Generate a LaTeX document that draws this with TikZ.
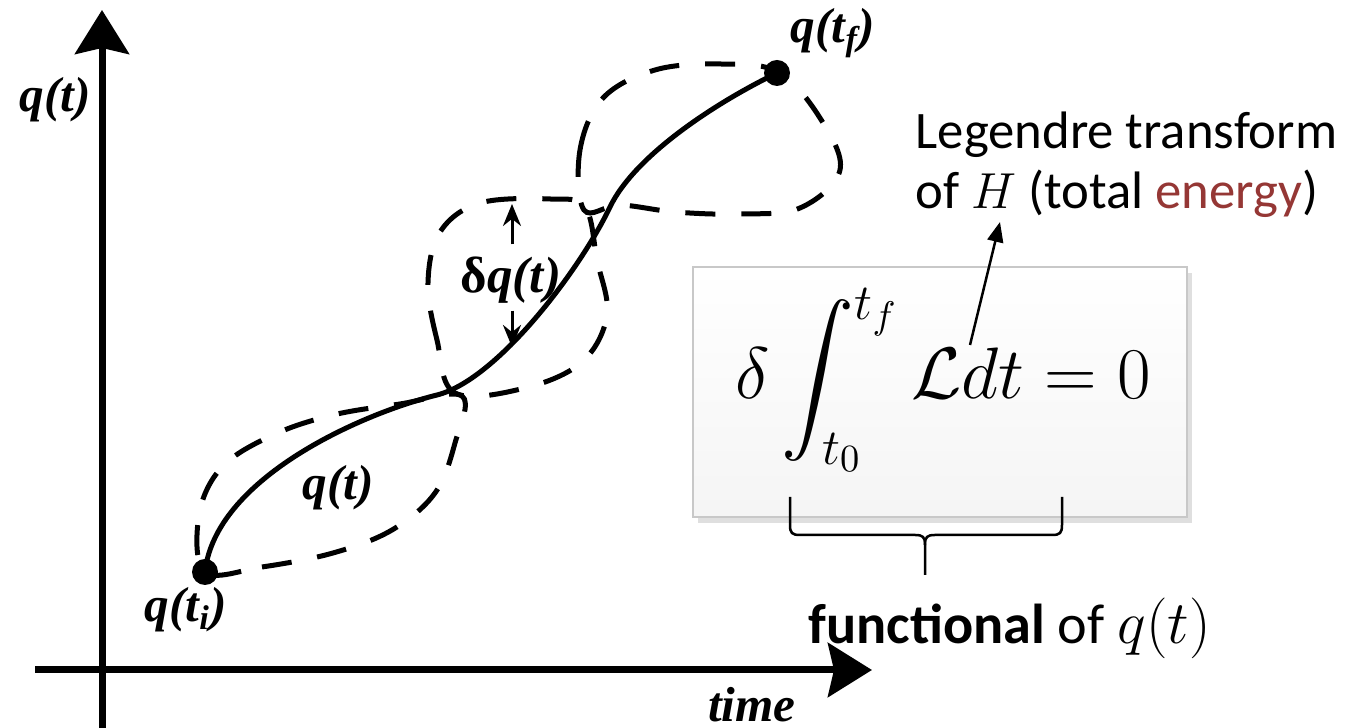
\documentclass[tikz,border=0pt]{standalone}
\usepackage{exscale}
\usepackage{fontspec}
\usetikzlibrary{arrows.meta,positioning,shadows}
\newfontfamily\notefont{Carlito}
\newfontfamily\plotfont{Liberation Serif}
\definecolor{energyred}{RGB}{149,55,53}
\definecolor{boxline}{RGB}{200,200,200}

\tikzset{
  axis/.style={line width=0.7mm, -{Stealth[length=4.4mm,width=5.4mm,inset=0.6mm]}},
  trajectory/.style={line width=0.5mm},
  varied/.style={line width=0.5mm, dash pattern=on 3mm off 2.6mm},
  dot/.style={circle, fill, inner sep=0pt, minimum size=2.6mm},
  plotlabel/.style={font=\plotfont\bfseries\itshape\fontsize{14}{16}\selectfont, inner sep=0.5pt},
  note/.style={font=\notefont\fontsize{15}{17}\selectfont, align=left, inner sep=0pt},
  pointer/.style={line width=0.25mm, -{Triangle[length=2mm,width=1.6mm]}},
  eqbox/.style={draw=boxline, line width=0.6pt, top color=white, bottom color=gray!8,
    drop shadow={shadow xshift=0.5mm, shadow yshift=-0.6mm, opacity=0.25},
    minimum width=49.4mm, minimum height=25mm},
  bracket/.style={line width=0.25mm},
}

\begin{document}
\begin{tikzpicture}[x=0.1mm, y=-0.1mm]
  \useasboundingbox (0,0) rectangle (1357,728);

  % axes
  \coordinate (ybot) at (102,728);
  \coordinate (ytop) at (102,10);
  \coordinate (xleft) at (35,670);
  \coordinate (xright) at (872,670);
  \draw[axis] (ybot) -- (ytop);
  \draw[axis] (xleft) -- (xright);
  \node[plotlabel] (qaxis) at (55,100) {q(t)};
  \node[plotlabel] (time) at (752,705) {time};

  % end points
  \node[dot] (ti) at (205,572) {};
  \node[dot] (tf) at (777,73) {};
  \node[plotlabel] (tilabel) at (186,610) {q(t\textsubscript{i})};
  \node[plotlabel] (tflabel) at (833,33) {q(t\textsubscript{f})};

  % varied paths
  \draw[varied] plot[smooth cycle, tension=0.6] coordinates {(205,572) (262,567) (333,553) (392,530)
    (435,493) (455,443) (462,396) (400,404) (333,415) (273,435) (222,467) (199,515)};
  \draw[varied] plot[smooth cycle, tension=0.6] coordinates {(455,393) (437,340) (428,283) (440,232)
    (480,203) (550,199) (585,207) (597,260) (607,315) (582,362) (525,388)};
  \draw[varied] plot[smooth cycle, tension=0.6] coordinates {(584,210) (580,150) (603,98) (655,70)
    (720,64) (778,72) (820,118) (840,170) (800,208) (738,214) (675,212) (620,205)};

  % actual path
  \coordinate (flat) at (437,395);
  \coordinate (steep) at (610,207);
  \draw[trajectory] (ti.center) .. controls (215,480) and (357,415) .. (flat)
    .. controls (497,380) and (580,270) .. (steep)
    .. controls (635,155) and (717,102) .. (tf.center);
  \node[plotlabel] (qmid) at (338,488) {q(t)};

  % variation
  \node[plotlabel, font=\plotfont\bfseries\itshape\fontsize{14.5}{16}\selectfont] (dq) at (511,280) {{\upshape δ}q(t)};
  \coordinate (dqtop) at (512,204);
  \coordinate (dqbot) at (512,347);
  \draw[line width=0.3mm, -{Stealth[length=2.2mm,width=1.8mm]}] ([yshift=1mm]dq.north -| dqtop) -- (dqtop);
  \draw[line width=0.3mm, -{Stealth[length=2.2mm,width=1.8mm]}] ([yshift=-0.5mm]dq.south -| dqbot) -- (dqbot);

  % action
  \node[eqbox] (frame) at (940,392) {};
  \node (action) at (943,380) {\fontsize{21}{25}\selectfont $\displaystyle \delta\int_{t_0}^{t_f}\mathcal{L}dt=0$};

  \node[note, anchor=west] (legendre) at (915,165) {Legendre transform\\of $H$ (total {\color{energyred}energy})};
  \coordinate (Lref) at (970,345);
  \coordinate (Htip) at (1000,222);
  \draw[pointer] (Lref) -- (Htip);

  % brace
  \coordinate (braceL) at (790,497);
  \coordinate (braceR) at (1062,497);
  \coordinate (braceTip) at (925,575);
  \draw[bracket] (braceL) -- ++(0,28) .. controls +(0,8) and +(-8,0) .. ++(10,10) -- ++(115,0)
    .. controls +(8,0) and +(0,-8) .. ++(10,10) -- (braceTip);
  \draw[bracket] (braceR) -- ++(0,28) .. controls +(0,8) and +(8,0) .. ++(-10,10) -- ++(-117,0)
    .. controls +(-8,0) and +(0,-8) .. ++(-10,10);
  \node[note, anchor=west, font=\notefont\fontsize{16}{18}\selectfont] (functional) at (808,628) {\textbf{functional} of $q(t)$};
\end{tikzpicture}
\end{document}
